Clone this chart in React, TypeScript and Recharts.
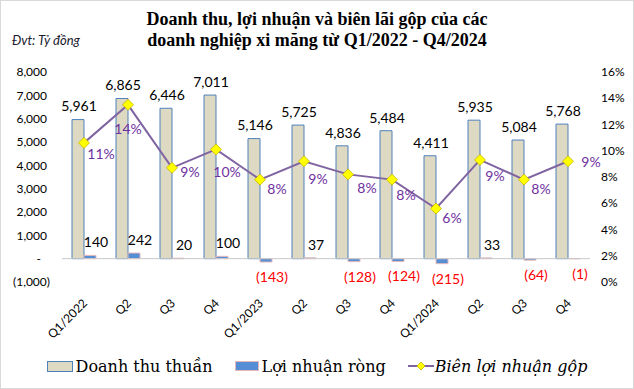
import React from "react";
import {
  ComposedChart,
  Bar,
  Line,
  XAxis,
  YAxis,
  ReferenceLine,
  LabelList,
} from "recharts";

const quarters = ["Q1/2022", "Q2", "Q3", "Q4", "Q1/2023", "Q2", "Q3", "Q4", "Q1/2024", "Q2", "Q3", "Q4"];
const revenue = [5961, 6865, 6446, 7011, 5146, 5725, 4836, 5484, 4411, 5935, 5084, 5768];
const netProfit = [140, 242, 20, 100, -143, 37, -128, -124, -215, 33, -64, -1];
const grossMargin = [10.6, 13.5, 8.7, 10.1, 7.8, 9.2, 8.2, 7.8, 5.6, 9.3, 7.8, 9.2];
const leftTicks = [-1000, 0, 1000, 2000, 3000, 4000, 5000, 6000, 7000, 8000];
const rightTicks = [0, 2, 4, 6, 8, 10, 12, 14, 16];

// where each margin label sits relative to its point (moved by hand in the original)
const marginLabelOffsets = [
  [17, 11], [0, 24], [18, 4], [11, 23], [17, 9], [14, 18],
  [19, 14], [14, 15], [16, 10], [15, 16], [17, 9], [23, 1],
];

const chartData = quarters.map((q, i) => ({
  quarter: q,
  revenue: revenue[i],
  profit: netProfit[i],
  margin: grossMargin[i],
}));

const SANS = "Lato, 'Open Sans', sans-serif";
const SERIF = "'Liberation Serif', 'DejaVu Serif', serif";
const LEGEND_SERIF = "'DejaVu Serif', 'Liberation Serif', serif";

const fmt = (v: number) => {
  if (v === 0) return "-";
  const s = Math.abs(v).toLocaleString("en-US");
  return v < 0 ? `(${s})` : s;
};

const LeftTick = (props: any) => {
  const { x, y, payload } = props;
  const v = payload.value;
  const dx = v < 0 ? -12 : v === 0 ? -21 : -15;
  return (
    <text x={x + dx} y={y} dy="0.35em" textAnchor="end" fontFamily={SANS} fontSize={12} fill="#000">
      {fmt(v)}
    </text>
  );
};

const RightTick = (props: any) => {
  const { x, y, payload } = props;
  return (
    <text x={x + 11} y={y} dy="0.35em" textAnchor="start" fontFamily={SANS} fontSize={12} fill="#000">
      {`${payload.value}%`}
    </text>
  );
};

const BottomTick = (props: any) => {
  const { x, y, payload } = props;
  return (
    <g transform={`translate(${x + 4},${y + 22})`}>
      <text transform="rotate(-45)" textAnchor="end" fontFamily={SANS} fontSize={12} fill="#000">
        {payload.value}
      </text>
    </g>
  );
};

const RevenueLabel = (props: any) => {
  const { x, y, width, value } = props;
  return (
    <text x={x + width / 2 + 1} y={y - 13} dy="0.35em" textAnchor="middle" fontFamily={SANS} fontSize={14} fill="#000">
      {fmt(value)}
    </text>
  );
};

const ProfitLabel = (props: any) => {
  const { x, y, width, height, value } = props;
  const top = Math.min(y, y + height);
  const bottom = Math.max(y, y + height);
  const neg = value < 0;
  return (
    <text
      x={x + width / 2 + 6}
      y={neg ? bottom + 15 : top - 13}
      dy="0.35em"
      textAnchor="middle"
      fontFamily={SANS}
      fontSize={14}
      fill={neg ? "#ff0000" : "#000"}
    >
      {fmt(value)}
    </text>
  );
};

const MarginLabel = (props: any) => {
  const { x, y, value, index } = props;
  const [dx, dy] = marginLabelOffsets[index] || [12, 10];
  return (
    <text x={x + dx} y={y + dy} dy="0.35em" textAnchor="middle" fontFamily={SANS} fontSize={14} fill="#7030a0">
      {`${Math.round(value)}%`}
    </text>
  );
};

const Diamond = (props: any) => {
  const { cx, cy } = props;
  if (cx == null || cy == null) return null;
  const r = 5.5;
  return (
    <polygon
      points={`${cx},${cy - r} ${cx + r},${cy} ${cx},${cy + r} ${cx - r},${cy}`}
      fill="#ffff00"
      stroke="#c8b400"
      strokeWidth={0.8}
    />
  );
};

const legendText: React.CSSProperties = {
  fontFamily: LEGEND_SERIF,
  fontSize: 16,
  color: "#000",
  marginLeft: 3,
  whiteSpace: "nowrap",
};

export default function App() {
  return (
    <div
      style={{
        position: "fixed",
        left: 0,
        top: 0,
        width: 634,
        height: 389,
        background: "#fff",
        boxSizing: "border-box",
        border: "1px solid #d9d9d9",
      }}
    >
      <div
        style={{
          position: "absolute",
          left: -1,
          top: 8,
          width: 634,
          textAlign: "center",
          fontFamily: SERIF,
          fontWeight: "bold",
          fontSize: 18,
          lineHeight: "21px",
          color: "#000",
        }}
      >
        Doanh thu, lợi nhuận và biên lãi gộp của các
        <br />
        doanh nghiệp xi măng từ Q1/2022 - Q4/2024
      </div>
      <div
        style={{
          position: "absolute",
          left: 11,
          top: 31,
          fontFamily: SANS,
          fontStyle: "italic",
          fontSize: 13,
          color: "#1a1a2e",
        }}
      >
        Đvt: Tỷ đồng
      </div>
      <div style={{ position: "absolute", left: -1, top: -1 }}>
        <ComposedChart
          width={634}
          height={389}
          data={chartData}
          margin={{ top: 72, right: 0, bottom: 47, left: 0 }}
          barGap={0}
        >
          <XAxis
            dataKey="quarter"
            interval={0}
            axisLine={false}
            tickLine={false}
            tickSize={0}
            tickMargin={0}
            height={60}
            tick={<BottomTick />}
          />
          <YAxis
            yAxisId="left"
            orientation="left"
            width={62}
            domain={[-1000, 8000]}
            ticks={leftTicks}
            axisLine={false}
            tickLine={false}
            tickSize={0}
            tickMargin={0}
            tick={<LeftTick />}
          />
          <YAxis
            yAxisId="right"
            orientation="right"
            width={44}
            domain={[0, 16]}
            ticks={rightTicks}
            axisLine={false}
            tickLine={false}
            tickSize={0}
            tickMargin={0}
            tick={<RightTick />}
          />
          <ReferenceLine yAxisId="left" y={0} stroke="#c8c8c8" strokeWidth={1} />
          <Bar
            yAxisId="left"
            dataKey="revenue"
            barSize={12}
            fill="#ddd9c3"
            stroke="#4f81bd"
            strokeWidth={1}
            isAnimationActive={false}
          >
            <LabelList dataKey="revenue" content={<RevenueLabel />} />
          </Bar>
          <Bar
            yAxisId="left"
            dataKey="profit"
            barSize={12}
            fill="#558ed5"
            stroke="#e6b9b8"
            strokeWidth={1}
            isAnimationActive={false}
          >
            <LabelList dataKey="profit" content={<ProfitLabel />} />
          </Bar>
          <Line
            yAxisId="right"
            dataKey="margin"
            type="linear"
            stroke="#8064a2"
            strokeWidth={2}
            dot={<Diamond />}
            activeDot={false}
            isAnimationActive={false}
          >
            <LabelList dataKey="margin" content={<MarginLabel />} />
          </Line>
        </ComposedChart>
      </div>
      <div
        style={{
          position: "absolute",
          left: -1,
          top: 352,
          width: 634,
          height: 26,
          display: "flex",
          alignItems: "center",
          justifyContent: "center",
        }}
      >
        <div style={{ display: "flex", alignItems: "center" }}>
          <span style={{ width: 24, height: 9, background: "#ddd9c3", border: "1px solid #4f81bd" }} />
          <span style={legendText}>Doanh thu thuần</span>
        </div>
        <div style={{ display: "flex", alignItems: "center", marginLeft: 22 }}>
          <span style={{ width: 22, height: 8, background: "#558ed5", border: "1px solid #e6b9b8" }} />
          <span style={legendText}>Lợi nhuận ròng</span>
        </div>
        <div style={{ display: "flex", alignItems: "center", marginLeft: 22 }}>
          <svg width={26} height={12}>
            <line x1={0} y1={6} x2={26} y2={6} stroke="#8064a2" strokeWidth={2} />
            <polygon points="13,2 17,6 13,10 9,6" fill="#ffff00" stroke="#c8b400" strokeWidth={0.8} />
          </svg>
          <span style={{ ...legendText, fontStyle: "italic", marginLeft: 1 }}>Biên lợi nhuận gộp</span>
        </div>
      </div>
    </div>
  );
}
